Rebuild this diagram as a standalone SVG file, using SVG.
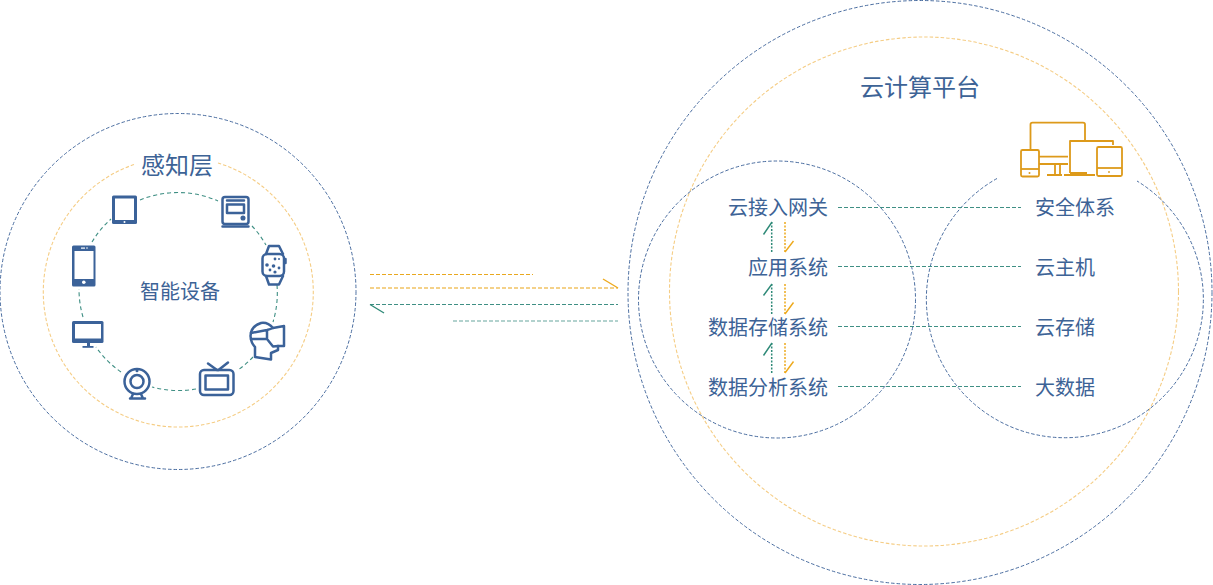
<svg xmlns="http://www.w3.org/2000/svg" width="1213" height="585" viewBox="0 0 1213 585">
<style>
text{font-family:"Noto Sans CJK SC","Noto Sans",sans-serif;fill:#3d6396;font-size:20px}
.t{font-size:24px}
.r{text-anchor:end}
.m{text-anchor:middle}
.blue{fill:none;stroke:#4a6da0;stroke-width:1;stroke-dasharray:3.500 2}
.or{fill:none;stroke:#f5cd85;stroke-width:1.100;stroke-dasharray:3.500 2}
.gr{fill:none;stroke:#3f8f84;stroke-width:1.100;stroke-dasharray:4 3}
.ol{fill:none;stroke:#e9a81f;stroke-width:1;stroke-dasharray:4 2}
.ln{fill:none;stroke:#3f8f84;stroke-width:1;stroke-dasharray:4 2}
.vg{fill:none;stroke:#2f8a78;stroke-width:1.500;stroke-dasharray:2 1.500}
.vo{fill:none;stroke:#eda91c;stroke-width:1.500;stroke-dasharray:2 1.500}
.bg{fill:none;stroke:#2f8a78;stroke-width:1.400}
.bo{fill:none;stroke:#eda91c;stroke-width:1.400}
.i{fill:none;stroke:#3b6299;stroke-width:2.500;stroke-linejoin:round;stroke-linecap:round}
.f{fill:#3b6299}
.w{fill:#fff}
.c{fill:none;stroke:#dd9a1a;stroke-width:1.800;stroke-linejoin:round}
</style>
<g id="perception-layer">
<circle class="blue" cx="178" cy="291.500" r="178"/>
<path class="or" d="M134 164.500A135 135 0 1 0 218 163"/>
<path class="gr" d="M140 200A99.500 99.500 0 0 1 218 201M252 226A99.500 99.500 0 0 1 266 245M277 285A99.500 99.500 0 0 1 273 322M253 357A99.500 99.500 0 0 1 238 370M196 389A99.500 99.500 0 0 1 152 387M121 372A99.500 99.500 0 0 1 96 347M83 317A99.500 99.500 0 0 1 79 289M92 242A99.500 99.500 0 0 1 111 219"/>
<text class="t m" x="177" y="173.500">感知层</text>
<text class="m" x="180" y="298.500">智能设备</text>
</g>
<g id="device-tablet">
<rect class="f" x="112" y="195.500" width="25" height="28.500" rx="1.500"/>
<rect class="w" x="115" y="198.500" width="19" height="21.500"/>
<circle class="w" cx="124.500" cy="222" r="1"/>
</g>
<g id="device-appliance">
<rect class="i" x="222.500" y="197" width="26" height="27" rx="2.500"/>
<path class="i" d="M222.500 226.500H248.500M227 200.500H244"/>
<rect class="i" x="227" y="204.500" width="17" height="8.500"/>
<circle class="i" cx="243" cy="218" r="1.300"/>
</g>
<g id="device-watch">
<path class="i" d="M266 254L269 246H279L283 254M266 276L269 284.500H279L283 276"/>
<rect class="i" x="262.500" y="254" width="21.500" height="22" rx="4.500"/>
<path class="i" d="M285.500 259V263"/>
<g class="f"><circle cx="267" cy="265" r="1.800"/><circle cx="273.500" cy="266" r="1.800"/><circle cx="279" cy="268" r="1.400"/><circle cx="275" cy="259" r="1.400"/><circle cx="279" cy="259" r="1"/><circle cx="270" cy="270" r="1.400"/><circle cx="275" cy="272" r="1.600"/></g>
</g>
<g id="device-vr">
<path class="i" d="M255 347V357L271 359.500V353L278 350V346H284V326L273 328Q268 322 261 323Q251 326 250.500 336Q251 343 255 347Z"/>
<path class="i" d="M251 333L267 330Q271 329 273 328M251 339H267L273 346.500L278 346M267 330V339"/>
</g>
<g id="device-tv">
<rect class="i" x="200" y="370" width="33.500" height="25" rx="4"/>
<rect class="i" x="205.500" y="375.500" width="22.500" height="14"/>
<path class="i" d="M208 363.500L217 370M228 362.500L218.500 370"/>
</g>
<g id="device-webcam">
<circle class="i" cx="137" cy="381.500" r="12.500"/>
<circle class="i" cx="137" cy="381.500" r="6.500"/>
<circle class="f" cx="137" cy="370.800" r="1.500"/>
<path class="i" d="M133 394L131 398.500M141 394L143 398.500M130 398.500H145"/>
</g>
<g id="device-monitor">
<rect class="f" x="72" y="321" width="31.500" height="22" rx="1.500"/>
<rect class="w" x="75" y="324" width="26" height="14.500"/>
<rect class="f" x="87" y="343" width="3" height="4"/>
<rect class="f" x="82.500" y="346" width="11" height="1.800"/>
</g>
<g id="device-phone">
<rect class="f" x="72" y="245.500" width="23.500" height="41" rx="1.500"/>
<rect class="w" x="74.500" y="251" width="19" height="28"/>
<circle class="w" cx="83.800" cy="282.300" r="1.800"/>
<rect class="w" x="81" y="247.500" width="4" height="1.200"/>
<circle class="w" cx="87" cy="248" r="0.800"/>
</g>
<g id="cloud-platform">
<circle class="blue" cx="920" cy="292.500" r="292"/>
<circle class="or" cx="924" cy="291.500" r="254.500"/>
<text class="t m" x="920" y="95.500">云计算平台</text>
</g>
<g id="cloud-icon">
<path class="c" d="M1030.500 149V124.500Q1030.500 122.700 1032.500 122.700H1083Q1085 122.700 1085 124.500V140M1039 156.700H1068M1039 164H1068M1055 164V175M1060 164V175M1047 175H1062"/>
<rect class="c" x="1021" y="150" width="18" height="26.500" rx="1.500"/>
<path class="c" d="M1021 169H1039"/>
<circle cx="1029.500" cy="173" r="1" fill="#dd9a1a"/>
<path class="c" d="M1070 173V141H1113V145M1064 175H1095"/>
<rect x="1070" y="172" width="17" height="2.500" fill="#dd9a1a"/>
<rect class="c" x="1097" y="147" width="25" height="29" rx="1.500"/>
<path class="c" d="M1097 168H1122"/>
<circle cx="1109" cy="172" r="0.900" fill="#dd9a1a"/>
</g>
<g id="cloud-access">
<circle class="blue" cx="777" cy="299.500" r="138.500"/>
<text class="r" x="828" y="215">云接入网关</text>
<text class="r" x="828" y="275">应用系统</text>
<text class="r" x="828" y="335">数据存储系统</text>
<text class="r" x="828" y="395">数据分析系统</text>
</g>
<g id="cloud-services">
<path class="blue" d="M997 178.500A138.500 138.500 0 1 0 1137 181"/>
<text x="1035" y="215">安全体系</text>
<text x="1035" y="275">云主机</text>
<text x="1035" y="335">云存储</text>
<text x="1035" y="395">大数据</text>
</g>
<g id="connectors">
<path class="ol" d="M370 274.500H533"/>
<path class="ol" stroke-opacity="0.700" style="stroke-width:1.500" d="M370 288H618"/>
<path class="bo" d="M603 279L618 288"/>
<path class="ln" d="M370 304.500H618"/>
<path class="bg" d="M370 304.500L384 313"/>
<path class="ln" stroke-opacity="0.800" d="M453 321H618"/>
<path class="ln" d="M838 207.500H1021M838 266.500H1021M838 326.500H1021M838 386.500H1021"/>
<path class="vg" d="M771.700 222V253M771.700 284V314M771.700 343V373"/>
<path class="vo" d="M785 222V252M785 284V314M785 343V373"/>
<path class="bg" d="M763.500 234.500L772 222M763.500 295.500L772 284M763.500 355.500L772 343"/>
<path class="bo" d="M793.500 241L785 252M793.500 302.500L785 314M793.500 361.500L785 373"/>
</g>
</svg>
